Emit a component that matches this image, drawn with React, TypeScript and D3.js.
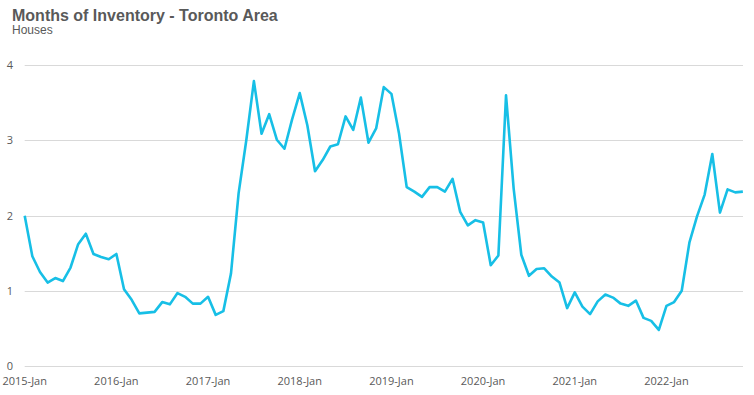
import React, { useEffect, useRef } from "react";
import * as d3 from "d3";

// months of inventory, Toronto area houses, Jan 2015 - Nov 2022
const values2015 = [2.0, 1.46, 1.25, 1.11, 1.17, 1.13, 1.31, 1.62, 1.76, 1.49, 1.45, 1.42];
const values2016 = [1.49, 1.02, 0.88, 0.7, 0.71, 0.72, 0.85, 0.82, 0.97, 0.92, 0.83, 0.83];
const values2017 = [0.92, 0.68, 0.73, 1.23, 2.3, 3.0, 3.79, 3.09, 3.35, 3.01, 2.89, 3.28];
const values2018 = [3.63, 3.2, 2.59, 2.74, 2.92, 2.95, 3.32, 3.14, 3.57, 2.97, 3.16, 3.71];
const values2019 = [3.62, 3.09, 2.38, 2.32, 2.25, 2.38, 2.38, 2.32, 2.49, 2.05, 1.87, 1.94];
const values2020 = [1.91, 1.34, 1.47, 3.6, 2.36, 1.48, 1.2, 1.29, 1.3, 1.19, 1.11, 0.77];
const values2021 = [0.98, 0.79, 0.69, 0.86, 0.95, 0.91, 0.83, 0.8, 0.87, 0.64, 0.6, 0.48];
const values2022 = [0.8, 0.85, 1.0, 1.64, 1.99, 2.28, 2.82, 2.04, 2.35, 2.31, 2.32];

const yTicks = [0, 1, 2, 3, 4];
const xTickLabels = ["2015-Jan", "2016-Jan", "2017-Jan", "2018-Jan", "2019-Jan", "2020-Jan", "2021-Jan", "2022-Jan"];

const values = [
  ...values2015, ...values2016, ...values2017, ...values2018,
  ...values2019, ...values2020, ...values2021, ...values2022,
];

const W = 754;
const H = 395;

export default function App() {
  const svgRef = useRef<SVGSVGElement>(null);

  useEffect(() => {
    const svg = d3.select(svgRef.current);
    svg.selectAll("*").remove();

    const left = 24.7;
    const right = 743;
    const x = d3.scaleLinear().domain([0, 94]).range([left, left + 94 * 7.64]);
    const y = d3.scaleLinear().domain([0, 4]).range([366, 65.3]);

    // title
    svg.append("text")
      .attr("x", 12).attr("y", 20.5)
      .attr("font-family", "Liberation Sans, Arial, sans-serif")
      .attr("font-weight", "bold")
      .attr("font-size", 16)
      .attr("fill", "#595959")
      .text("Months of Inventory - Toronto Area");
    svg.append("text")
      .attr("x", 12).attr("y", 34)
      .attr("font-family", "Liberation Sans, Arial, sans-serif")
      .attr("font-size", 12)
      .attr("fill", "#595959")
      .text("Houses");

    // gridlines
    svg.append("g")
      .selectAll("line")
      .data(yTicks)
      .enter()
      .append("line")
      .attr("x1", left).attr("x2", right)
      .attr("y1", (d) => Math.round(y(d)) + 0.5)
      .attr("y2", (d) => Math.round(y(d)) + 0.5)
      .attr("stroke", "#d9d9d9")
      .attr("stroke-width", 1);

    // y labels
    svg.append("g")
      .selectAll("text")
      .data(yTicks)
      .enter()
      .append("text")
      .attr("x", 10)
      .attr("y", (d) => y(d))
      .attr("dy", "0.35em")
      .attr("text-anchor", "middle")
      .attr("font-family", "Open Sans, sans-serif")
      .attr("font-size", 11)
      .attr("fill", "#595959")
      .text((d) => d);

    // x labels
    svg.append("g")
      .selectAll("text")
      .data(xTickLabels)
      .enter()
      .append("text")
      .attr("x", (d, i) => x(i * 12))
      .attr("y", 385)
      .attr("text-anchor", "middle")
      .attr("font-family", "Open Sans, sans-serif")
      .attr("font-size", 11)
      .attr("fill", "#595959")
      .text((d) => d);

    const line = d3.line<number>()
      .x((d, i) => x(i))
      .y((d) => y(d));

    svg.append("path")
      .datum(values)
      .attr("d", line)
      .attr("fill", "none")
      .attr("stroke", "#17bfe6")
      .attr("stroke-width", 2.6)
      .attr("stroke-linejoin", "round");
  }, []);

  return (
    <svg
      ref={svgRef}
      width={W}
      height={H}
      style={{ position: "absolute", left: 0, top: 0, background: "#fff" }}
    />
  );
}
